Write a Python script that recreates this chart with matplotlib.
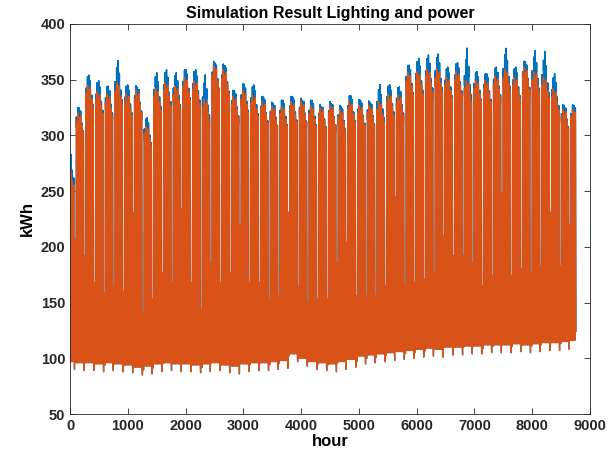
import numpy as np
import matplotlib
matplotlib.use("Agg")
import matplotlib.pyplot as plt

# Weekly readings (week slots; day 0 of the year is a Thursday)
# weekday peak of the orange series, per week slot
orange_peak = [268, 320, 345, 339, 337, 347, 337, 340, 308, 342, 347, 344, 352, 349,
               332, 362, 359, 335, 340, 336, 330, 326, 326, 330, 330, 326, 325, 327,
               323, 330, 327, 327, 330, 337, 336, 356, 357, 359, 359, 352, 357,
               349, 349, 349, 353, 359, 352, 361, 357, 352, 341, 323, 323]
# weekday peak of the blue series, per week slot
blue_peak = [305, 329, 359, 354, 349, 372, 350, 348, 320, 361, 364, 361, 364, 364,
             359, 370, 368, 345, 351, 350, 339, 333, 336, 339, 336, 336, 330, 333,
             330, 340, 336, 334, 350, 350, 348, 368, 374, 377, 378, 366, 370,
             383, 362, 360, 366, 383, 366, 371, 381, 380, 360, 331, 331]
# sunday peak (bottom of the white gaps), per week slot
sunday_peak = [207, 192, 168, 159, 165, 160, 231, 141, 153, 177, 168, 234, 168, 144,
               186, 168, 177, 220, 168, 168, 153, 156, 231, 165, 150, 153, 153, 186,
               204, 156, 156, 156, 165, 245, 165, 168, 171, 177, 210, 192, 192, 186,
               165, 174, 248, 174, 180, 177, 183, 231, 183, 220]
# night-time base load, per week slot
base_load = [97, 96, 96, 95, 96, 95, 94, 92, 93, 95, 96, 95, 95, 94, 95, 96, 94, 93,
             95, 96, 96, 97, 98, 104, 100, 97, 96, 95, 97, 99, 102, 103, 104, 105,
             106, 107, 108, 109, 108, 110, 110, 111, 111, 112, 112, 112, 113, 112,
             113, 114, 114, 115, 116]

# typical hourly shape of a day (0 = night base, 1 = day peak)
workday_shape = [0.02, 0.0, 0.0, 0.0, 0.01, 0.05, 0.25, 0.6, 0.88, 0.96, 0.99, 1.0,
                 0.97, 0.98, 1.0, 0.99, 0.95, 0.8, 0.55, 0.38, 0.25, 0.15, 0.08, 0.04]
sunday_shape = [0.05, 0.02, 0.0, 0.0, 0.0, 0.05, 0.2, 0.45, 0.7, 0.85, 0.95, 1.0,
                0.98, 0.95, 0.9, 0.85, 0.8, 0.7, 0.55, 0.4, 0.3, 0.2, 0.12, 0.08]
# day-of-week scaling of the peak (Mon..Sun)
day_scale = [0.97, 1.0, 0.98, 0.99, 0.95, 0.92, 1.0]
# share of the blue excess shown on each day (Mon..Sun)
blue_excess = [0.35, 0.55, 1.0, 0.45, 0.25, 0.2, 0.0]
sunday_night_drop = 7

hours = np.arange(8760)
day = hours // 24
hod = hours % 24
dow = (day + 3) % 7
slot = (day + 3) // 7
is_sunday = dow == 6

base = np.array(base_load, dtype=float)[slot]
base = np.where(is_sunday, base - sunday_night_drop, base)
sun_top = np.array(sunday_peak, dtype=float)[np.minimum(slot, len(sunday_peak) - 1)]
shape = np.where(is_sunday, np.array(sunday_shape)[hod], np.array(workday_shape)[hod])

o_top = np.where(is_sunday, sun_top, np.array(orange_peak, dtype=float)[slot])
orange = base + shape * (o_top - base) * np.array(day_scale)[dow]

extra = (np.array(blue_peak, dtype=float) - np.array(orange_peak, dtype=float))[slot]
blue = orange + extra * np.array(blue_excess)[dow] * shape ** 6

plt.rcParams['font.family'] = ['Liberation Sans', 'DejaVu Sans']
fig = plt.figure(figsize=(6.1, 4.59), dpi=100)
ax = fig.add_axes([0.115, 0.098, 0.852, 0.85])

ax.plot(hours, blue, color='#0072BD', linewidth=0.9)
ax.plot(hours, orange, color='#D95319', linewidth=0.9)

ax.set_xlim(0, 9000)
ax.set_ylim(50, 400)
ax.set_xticks(np.arange(0, 9001, 1000))
ax.set_yticks(np.arange(50, 401, 50))
ax.tick_params(direction='in', top=True, right=True, length=4, width=0.6,
               colors='#262626', labelsize=10.5)
for lab in ax.get_xticklabels() + ax.get_yticklabels():
    lab.set_fontweight('bold')
for sp in ax.spines.values():
    sp.set_color('#262626')
    sp.set_linewidth(0.6)

ax.set_title('Simulation Result Lighting and power', fontsize=11.5, fontweight='bold', pad=4)
ax.set_xlabel('hour', fontsize=12, fontweight='bold', labelpad=1)
ax.set_ylabel('kWh', fontsize=12, fontweight='bold')

fig.savefig('out.png', dpi=100)
